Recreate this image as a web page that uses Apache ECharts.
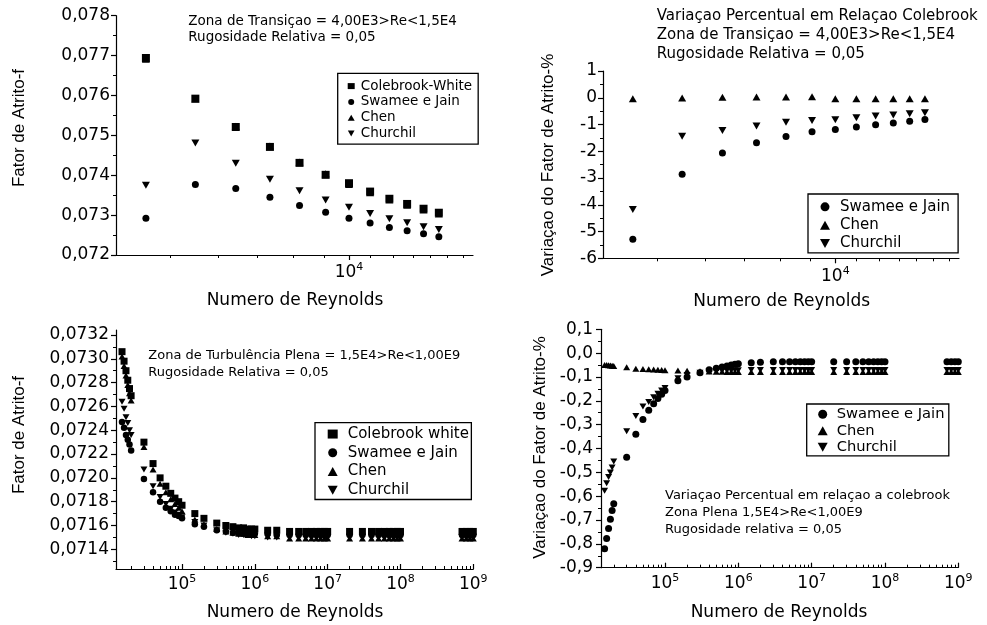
<!DOCTYPE html>
<html>
<head>
<meta charset="utf-8">
<script src="https://cdn.jsdelivr.net/npm/echarts@6/dist/echarts.min.js"></script>
<style>
  html, body { margin: 0; background: #fff; }
  #chart { width: 987px; height: 625px; }
</style>
</head>
<body>
<div id="chart"></div>
<script>
// zona de transição (graficos de cima)
const reTrans = [4000, 5000, 6000, 7000, 8000, 9000, 10000, 11000, 12000, 13000, 14000, 15000]
const fColebrookTrans = [0.07694, 0.07592, 0.07521, 0.07471, 0.07431, 0.07401, 0.07380, 0.07359, 0.07341, 0.07328, 0.07316, 0.07306]
const fSwameeTrans = [0.07292, 0.07377, 0.07367, 0.07345, 0.07324, 0.07307, 0.07292, 0.07280, 0.07269, 0.07261, 0.07253, 0.07246]
const fChenTrans = [0.07691, 0.07591, 0.07523, 0.07473, 0.07433, 0.07404, 0.07377, 0.07356, 0.07338, 0.07325, 0.07313, 0.07303]
const fChurchilTrans = [0.07375, 0.07481, 0.07430, 0.07390, 0.07361, 0.07338, 0.07320, 0.07304, 0.07291, 0.07281, 0.07271, 0.07264]

const varSwameeTrans = [-5.29, -2.86, -2.06, -1.68, -1.45, -1.27, -1.19, -1.09, -1.01, -0.94, -0.88, -0.81]
const varChenTrans = [-0.04, -0.01, 0.02, 0.03, 0.03, 0.04, -0.04, -0.04, -0.04, -0.04, -0.04, -0.04]
const varChurchilTrans = [-4.18, -1.44, -1.22, -1.06, -0.92, -0.85, -0.82, -0.75, -0.68, -0.64, -0.60, -0.56]

// zona de turbulencia plena (graficos de baixo)
const rePlena = [15000, 16000, 17000, 18000, 19000, 20000, 30000, 40000, 50000, 60000, 70000, 80000, 90000, 1e5,
  1.5e5, 2e5, 3e5, 4e5, 5e5, 6e5, 7e5, 8e5, 9e5, 1e6, 1.5e6, 2e6,
  3e6, 4e6, 5e6, 6e6, 7e6, 8e6, 9e6, 1e7, 2e7,
  3e7, 4e7, 5e7, 6e7, 7e7, 8e7, 9e7, 1e8, 7e8, 8e8, 9e8, 1e9]
const fColebrookPlena = [0.07306, 0.07298, 0.07290, 0.07282, 0.07275, 0.07269, 0.07230, 0.07212, 0.07200, 0.07193, 0.07187, 0.07183, 0.07180, 0.07177,
  0.07170, 0.07166, 0.07162, 0.07160, 0.07159, 0.07158, 0.07158, 0.07157, 0.07157, 0.07157, 0.07156, 0.07156,
  0.07155, 0.07155, 0.07155, 0.07155, 0.07155, 0.07155, 0.07155, 0.07155, 0.07155,
  0.07155, 0.07155, 0.07155, 0.07155, 0.07155, 0.07155, 0.07155, 0.07155, 0.07155, 0.07155, 0.07155, 0.07155]
const fSwameePlena = [0.07247, 0.07242, 0.07236, 0.07232, 0.07228, 0.07223, 0.07199, 0.07188, 0.07180, 0.07175, 0.07172, 0.07169, 0.07168, 0.07166,
  0.07161, 0.07159, 0.07156, 0.07155, 0.07154, 0.07154, 0.07153, 0.07153, 0.07153, 0.07153, 0.07153, 0.07152,
  0.07152, 0.07152, 0.07152, 0.07152, 0.07152, 0.07152, 0.07152, 0.07152, 0.07152,
  0.07152, 0.07152, 0.07152, 0.07152, 0.07152, 0.07152, 0.07152, 0.07152, 0.07152, 0.07152, 0.07152, 0.07152]
const fChenPlena = [0.07302, 0.07294, 0.07286, 0.07278, 0.07271, 0.07265, 0.07226, 0.07207, 0.07195, 0.07188, 0.07182, 0.07178, 0.07175, 0.07172,
  0.07165, 0.07161, 0.07157, 0.07155, 0.07154, 0.07153, 0.07153, 0.07152, 0.07152, 0.07152, 0.07151, 0.07151,
  0.07149, 0.07149, 0.07149, 0.07149, 0.07149, 0.07149, 0.07149, 0.07149, 0.07149,
  0.07149, 0.07149, 0.07149, 0.07149, 0.07149, 0.07149, 0.07149, 0.07149, 0.07149, 0.07149, 0.07149, 0.07149]
const fChurchilPlena = [0.07264, 0.07258, 0.07251, 0.07246, 0.07240, 0.07236, 0.07207, 0.07193, 0.07184, 0.07178, 0.07174, 0.07171, 0.07169, 0.07167,
  0.07163, 0.07160, 0.07156, 0.07154, 0.07153, 0.07152, 0.07152, 0.07152, 0.07151, 0.07151, 0.07150, 0.07150,
  0.07150, 0.07150, 0.07150, 0.07150, 0.07150, 0.07150, 0.07150, 0.07150, 0.07150,
  0.07150, 0.07150, 0.07150, 0.07150, 0.07150, 0.07150, 0.07150, 0.07150, 0.07150, 0.07150, 0.07150, 0.07150]

const varSwameePlena = [-0.821, -0.777, -0.736, -0.697, -0.660, -0.632, -0.437, -0.340, -0.278, -0.240, -0.212, -0.190, -0.172, -0.157,
  -0.116, -0.100, -0.082, -0.070, -0.063, -0.058, -0.054, -0.050, -0.047, -0.045, -0.040, -0.038,
  -0.036, -0.036, -0.036, -0.036, -0.036, -0.036, -0.036, -0.036, -0.036,
  -0.036, -0.036, -0.036, -0.036, -0.036, -0.036, -0.036, -0.036, -0.036, -0.036, -0.036, -0.036]
const varChenPlena = [-0.050, -0.050, -0.051, -0.052, -0.053, -0.054, -0.059, -0.065, -0.067, -0.068, -0.069, -0.070, -0.071, -0.072,
  -0.073, -0.074, -0.076, -0.077, -0.078, -0.078, -0.079, -0.079, -0.079, -0.079, -0.079, -0.079,
  -0.079, -0.079, -0.079, -0.079, -0.079, -0.079, -0.079, -0.079, -0.079,
  -0.079, -0.079, -0.079, -0.079, -0.079, -0.079, -0.079, -0.079, -0.079, -0.079, -0.079, -0.079]
const varChurchilPlena = [-0.577, -0.546, -0.520, -0.501, -0.480, -0.455, -0.328, -0.264, -0.224, -0.205, -0.185, -0.170, -0.157, -0.146,
  -0.105, -0.092, -0.082, -0.077, -0.075, -0.074, -0.073, -0.073, -0.072, -0.072, -0.071, -0.071,
  -0.071, -0.071, -0.071, -0.071, -0.071, -0.071, -0.071, -0.071, -0.071,
  -0.071, -0.071, -0.071, -0.071, -0.071, -0.071, -0.071, -0.071, -0.071, -0.071, -0.071, -0.071]

// marcas dos eixos
const xLabelsTrans = [10000]
const xMinorTrans = [4460, 5550, 6620, 7780, 8930, 10990, 12190, 13350, 14410, 15560, 16720]
const xLabelsPlena = [1e5, 1e6, 1e7, 1e8, 1e9]
const yLabelsPlena = [0.0714, 0.0716, 0.0718, 0.0720, 0.0722, 0.0724, 0.0726, 0.0728, 0.0730, 0.0732]
const yMinorPlena = [0.0713, 0.0715, 0.0717, 0.0719, 0.0721, 0.0723, 0.0725, 0.0727, 0.0729, 0.0731]
// minor ticks log 2..9 por decada
const xMinorPlena = []
for (let e = 4; e <= 8; e++) {
  for (let m = 2; m <= 9; m++) xMinorPlena.push(m * Math.pow(10, e))
}

const fontH = '"DejaVu Sans", sans-serif'
const fontV = '"Liberation Sans", Arial, sans-serif'
const black = '#000'
const downTri = 'path://M0,0L10,0L5,9Z'

const comma = d => v => v.toFixed(d).replace('.', ',')

function mainX (gridIndex, min, max, labels, inside, margin) {
  return {
    type: 'log',
    logBase: 10,
    gridIndex,
    min,
    max,
    position: 'bottom',
    axisLine: { show: true, onZero: false, lineStyle: { color: black, width: 1.2 } },
    axisTick: { show: true, inside, length: 5, customValues: labels, lineStyle: { color: black, width: 1.2 } },
    axisLabel: {
      customValues: labels,
      margin,
      formatter: v => '{n|10}{s|' + Math.round(Math.log10(v)) + '}',
      rich: {
        n: { fontFamily: fontH, fontSize: 17, lineHeight: 22, color: black },
        s: { fontFamily: fontH, fontSize: 11, lineHeight: 12, verticalAlign: 'top', color: black }
      }
    },
    splitLine: { show: false },
    minorTick: { show: false },
    minorSplitLine: { show: false }
  }
}

function minorX (gridIndex, min, max, ticks, inside) {
  return {
    type: 'log',
    logBase: 10,
    gridIndex,
    min,
    max,
    position: 'bottom',
    axisLine: { show: false, onZero: false },
    axisTick: { show: true, inside, length: 3, customValues: ticks, lineStyle: { color: black, width: 1 } },
    axisLabel: { show: false },
    splitLine: { show: false }
  }
}

function valueY (gridIndex, min, max, interval, decimals, margin) {
  return {
    type: 'value',
    gridIndex,
    min,
    max,
    interval,
    position: 'left',
    axisLine: { show: true, onZero: false, lineStyle: { color: black, width: 1.2 } },
    axisTick: { show: true, inside: false, length: 5, lineStyle: { color: black, width: 1.2 } },
    minorTick: { show: true, splitNumber: 2, length: 3, lineStyle: { color: black, width: 1 } },
    axisLabel: { margin, formatter: comma(decimals), fontFamily: fontH, fontSize: 17, color: black },
    splitLine: { show: false },
    minorSplitLine: { show: false }
  }
}

function sc (name, xs, ys, xi, yi, symbol, size) {
  return {
    name,
    type: 'scatter',
    xAxisIndex: xi,
    yAxisIndex: yi,
    symbol,
    symbolSize: size,
    itemStyle: { color: black, opacity: 1 },
    silent: true,
    data: xs.map((r, i) => [r, ys[i]])
  }
}

// caixa de legenda; nomes com espacos extras so para separar as series de cada grafico
function legendBox (left, top, padding, itemSize, textPad, fontSize, lineHeight, names) {
  return {
    orient: 'vertical',
    left,
    top,
    padding,
    itemGap: 0,
    itemWidth: itemSize[0],
    itemHeight: itemSize[1],
    borderColor: black,
    borderWidth: 1.3,
    selectedMode: false,
    formatter: name => name.trim(),
    textStyle: { fontFamily: fontH, fontSize, lineHeight, color: black, padding: [0, 0, 0, textPad] },
    data: names
  }
}

function txt (x, y, text, font, lineHeight, rot) {
  return {
    type: 'text',
    x,
    y,
    rotation: rot || 0,
    silent: true,
    style: {
      text,
      x: 0,
      y: 0,
      font,
      fill: black,
      lineHeight,
      align: rot ? 'center' : 'left',
      textAlign: rot ? 'center' : 'left',
      verticalAlign: rot ? 'middle' : 'top',
      textVerticalAlign: rot ? 'middle' : 'top'
    }
  }
}

function centered (x, y, text) {
  const t = txt(x, y, text, '17px ' + fontH, 17)
  t.style.align = 'center'
  t.style.textAlign = 'center'
  return t
}

const chart = echarts.init(document.getElementById('chart'), null, { renderer: 'canvas' })

const option = {
  backgroundColor: '#fff',
  animation: false,
  grid: [
    { left: 116, top: 15.7, width: 357, height: 239.3, containLabel: false, outerBoundsMode: 'none' },
    { left: 603, top: 71, width: 356, height: 187.3, containLabel: false, outerBoundsMode: 'none' },
    { left: 116, top: 330, width: 357.3, height: 239, containLabel: false, outerBoundsMode: 'none' },
    { left: 601, top: 329.3, width: 357.3, height: 238.4, containLabel: false, outerBoundsMode: 'none' }
  ],
  xAxis: [
    mainX(0, 3495, 17500, xLabelsTrans, false, 7),
    minorX(0, 3495, 17500, xMinorTrans, false),
    mainX(1, 3495, 17500, xLabelsTrans, false, 7),
    minorX(1, 3495, 17500, xMinorTrans, false),
    mainX(2, 12400, 1e9, xLabelsPlena, true, 5),
    minorX(2, 12400, 1e9, xMinorPlena, true),
    mainX(3, 13400, 1e9, xLabelsPlena, true, 5),
    minorX(3, 13400, 1e9, xMinorPlena, true)
  ],
  yAxis: [
    valueY(0, 0.072, 0.078, 0.001, 3, 6),
    valueY(1, -6, 1, 1, 0, 6),
    Object.assign(valueY(2, 0.0712345, 0.073242, null, 4, 7), {
      interval: undefined,
      minorTick: { show: false },
      axisTick: { show: true, inside: false, length: 5, customValues: yLabelsPlena, lineStyle: { color: black, width: 1.2 } },
      axisLabel: { customValues: yLabelsPlena, margin: 7, formatter: comma(4), fontFamily: fontH, fontSize: 17, color: black }
    }),
    {
      type: 'value',
      gridIndex: 2,
      min: 0.0712345,
      max: 0.073242,
      position: 'left',
      axisLine: { show: false, onZero: false },
      axisTick: { show: true, inside: false, length: 3, customValues: yMinorPlena, lineStyle: { color: black, width: 1 } },
      axisLabel: { show: false },
      splitLine: { show: false }
    },
    valueY(3, -0.9, 0.1, 0.1, 1, 8)
  ],
  legend: [
    legendBox(337.7, 73.3, [4.9, 6, 2.8, 10], [7, 6], 1, 13.5, 15.8, ['Colebrook-White', 'Swamee e Jain', 'Chen', 'Churchil']),
    legendBox(808, 194, [3.7, 8, 0.3, 12], [10, 9], 5, 15, 18.3, ['Swamee e Jain ', 'Chen ', 'Churchil ']),
    legendBox(315, 422.7, [2, 2.4, 0, 12.7], [10, 9], 5, 15, 18.7, ['Colebrook white', 'Swamee e Jain  ', 'Chen  ', 'Churchil  ']),
    legendBox(806.7, 404, [2, 4.3, 0.4, 11], [10, 9], 4, 14.7, 16.5, ['Swamee e Jain   ', 'Chen   ', 'Churchil   '])
  ],
  series: [
    sc('Colebrook-White', reTrans, fColebrookTrans, 0, 0, 'rect', 8),
    sc('Swamee e Jain', reTrans, fSwameeTrans, 0, 0, 'circle', 7),
    sc('Chen', reTrans, fChenTrans, 0, 0, 'triangle', [8, 7]),
    sc('Churchil', reTrans, fChurchilTrans, 0, 0, downTri, [8, 7]),

    sc('Swamee e Jain ', reTrans, varSwameeTrans, 2, 1, 'circle', 7),
    sc('Chen ', reTrans, varChenTrans, 2, 1, 'triangle', [8, 7]),
    sc('Churchil ', reTrans, varChurchilTrans, 2, 1, downTri, [8, 7]),

    sc('Colebrook white', rePlena, fColebrookPlena, 4, 2, 'rect', 7),
    sc('Swamee e Jain  ', rePlena, fSwameePlena, 4, 2, 'circle', 6.5),
    sc('Chen  ', rePlena, fChenPlena, 4, 2, 'triangle', [7, 6]),
    sc('Churchil  ', rePlena, fChurchilPlena, 4, 2, downTri, [7, 6]),

    sc('Swamee e Jain   ', rePlena, varSwameePlena, 6, 4, 'circle', 7),
    sc('Chen   ', rePlena, varChenPlena, 6, 4, 'triangle', [7, 6]),
    sc('Churchil   ', rePlena, varChurchilPlena, 6, 4, downTri, [7, 6])
  ],
  graphic: [
    txt(188.3, 13.7, 'Zona de Transiçao = 4,00E3>Re<1,5E4\nRugosidade Relativa = 0,05', '13.5px ' + fontH, 16),
    txt(656.7, 6.5, 'Variaçao Percentual em Relaçao Colebrook\nZona de Transiçao = 4,00E3>Re<1,5E4\nRugosidade Relativa = 0,05', '15px ' + fontH, 19),
    txt(148.3, 347.9, 'Zona de Turbulência Plena = 1,5E4>Re<1,00E9\nRugosidade Relativa = 0,05', '13px ' + fontH, 16.3),
    txt(665, 487.4, 'Variaçao Percentual em relaçao a colebrook\nZona Plena 1,5E4>Re<1,00E9\nRugosidade relativa = 0,05', '13px ' + fontH, 16.7),

    centered(295, 292, 'Numero de Reynolds'),
    centered(781.7, 293, 'Numero de Reynolds'),
    centered(295, 604, 'Numero de Reynolds'),
    centered(779, 604, 'Numero de Reynolds'),

    txt(19.5, 128, 'Fator de Atrito-f', '17px ' + fontV, 17, Math.PI / 2),
    txt(548, 165, 'Variaçao do Fator de Atrito-%', '17px ' + fontV, 17, Math.PI / 2),
    txt(19, 435, 'Fator de Atrito-f', '17px ' + fontV, 17, Math.PI / 2),
    txt(540, 447.5, 'Variaçao do Fator de Atrito-%', '17px ' + fontV, 17, Math.PI / 2)
  ]
}

chart.setOption(option)
</script>
</body>
</html>
